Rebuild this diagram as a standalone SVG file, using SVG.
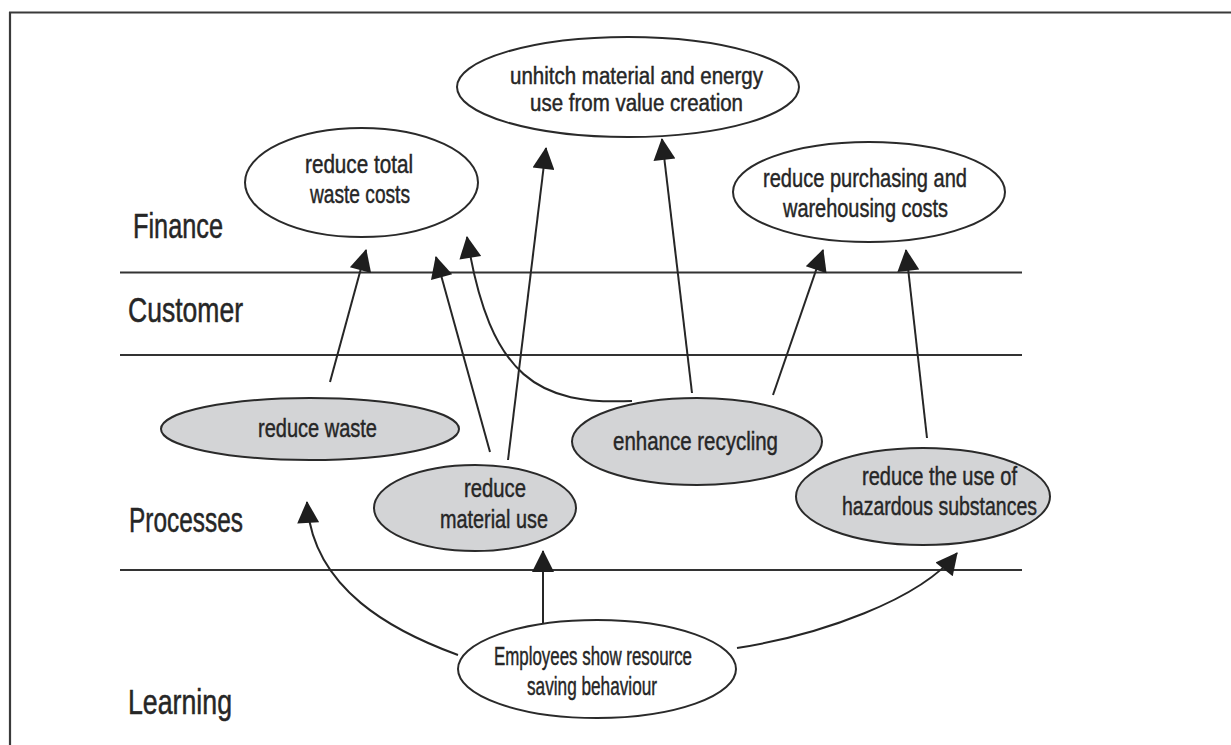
<svg xmlns="http://www.w3.org/2000/svg" width="1231" height="745" viewBox="0 0 1231 745">
  <style>
    .frame { stroke: #3a3a3a; stroke-width: 2.2; fill: none; }
    .band { stroke: #333; stroke-width: 2; fill: none; }
    .goal { fill: #ffffff; stroke: #2a2a2a; stroke-width: 2; }
    .proc { fill: #d3d4d6; stroke: #2a2a2a; stroke-width: 2; }
    .t { font-family: "Liberation Sans Narrow", "Liberation Sans", Arial, sans-serif; font-size: 26px; fill: #262626; stroke: #262626; stroke-width: 0.45; text-anchor: middle; }
    .tight { font-size: 23.5px; }
    .lbl { font-family: "Liberation Sans Narrow", "Liberation Sans", Arial, sans-serif; font-size: 35px; fill: #262626; stroke: #262626; stroke-width: 0.5; }
    .conn { stroke: #262626; stroke-width: 2; fill: none; marker-end: url(#head); }
  </style>
  <defs>
    <marker id="head" viewBox="0 0 10 10" refX="9.5" refY="5" markerUnits="userSpaceOnUse" markerWidth="28" markerHeight="22" orient="auto">
      <path d="M0,0 L10,5 L0,10 z" fill="#1e1e1e"/>
    </marker>
  </defs>

  <rect width="1231" height="745" fill="#ffffff"/>

  <!-- outer frame: top and left edges -->
  <line class="frame" x1="9" y1="12.5" x2="1231" y2="12.5"/>
  <line class="frame" x1="10" y1="12" x2="10" y2="745"/>

  <!-- perspective bands -->
  <g id="bands">
    <line class="band" x1="120" y1="272.5" x2="1022" y2="272.5"/>
    <line class="band" x1="120" y1="355" x2="1022" y2="355"/>
    <line class="band" x1="120" y1="570" x2="1022" y2="570"/>
  </g>

  <g id="labels">
    <text class="lbl" x="133" y="238" textLength="90" lengthAdjust="spacingAndGlyphs">Finance</text>
    <text class="lbl" x="128" y="322" textLength="115" lengthAdjust="spacingAndGlyphs">Customer</text>
    <text class="lbl" x="129" y="532" textLength="114" lengthAdjust="spacingAndGlyphs">Processes</text>
    <text class="lbl" x="128" y="714" textLength="104" lengthAdjust="spacingAndGlyphs">Learning</text>
  </g>

  <!-- connectors -->
  <g id="connectors">
    <path class="conn" d="M330,382 L366,250"/>
    <path class="conn" d="M490,452 L436,257"/>
    <path class="conn" d="M508,460 L546,148"/>
    <path class="conn" d="M632,401 C540,405 490,380 467,237"/>
    <path class="conn" d="M692,393 L662,139"/>
    <path class="conn" d="M773,395 L823,250"/>
    <path class="conn" d="M927,438 L906,250"/>
    <path class="conn" d="M458,655 C395,632 312,590 307,502"/>
    <path class="conn" d="M543,625 L543,551"/>
    <path class="conn" d="M737,648 C820,635 920,600 957,553"/>
  </g>

  <!-- finance goals -->
  <g id="reduce-total-waste-costs">
    <ellipse class="goal" cx="361.5" cy="182.5" rx="116.5" ry="54.5"/>
    <text class="t" x="359" y="173" textLength="108" lengthAdjust="spacingAndGlyphs">reduce total</text>
    <text class="t" x="360" y="203" textLength="100" lengthAdjust="spacingAndGlyphs">waste costs</text>
  </g>
  <g id="unhitch-material-energy">
    <ellipse class="goal" cx="628" cy="87" rx="171" ry="50"/>
    <text class="t tight" x="636.5" y="84" textLength="253" lengthAdjust="spacingAndGlyphs">unhitch material and energy</text>
    <text class="t tight" x="636.5" y="111" textLength="213" lengthAdjust="spacingAndGlyphs">use from value creation</text>
  </g>
  <g id="reduce-purchasing-costs">
    <ellipse class="goal" cx="869" cy="192" rx="136" ry="50"/>
    <text class="t" x="865" y="187" textLength="204" lengthAdjust="spacingAndGlyphs">reduce purchasing and</text>
    <text class="t" x="865.5" y="217" textLength="165" lengthAdjust="spacingAndGlyphs">warehousing costs</text>
  </g>

  <!-- process objectives -->
  <g id="reduce-waste">
    <ellipse class="proc" cx="310" cy="429" rx="149" ry="31"/>
    <text class="t" x="317.5" y="437" textLength="119" lengthAdjust="spacingAndGlyphs">reduce waste</text>
  </g>
  <g id="reduce-material-use">
    <ellipse class="proc" cx="475" cy="508" rx="101" ry="43"/>
    <text class="t" x="495" y="497" textLength="62" lengthAdjust="spacingAndGlyphs">reduce</text>
    <text class="t" x="494" y="528" textLength="108" lengthAdjust="spacingAndGlyphs">material use</text>
  </g>
  <g id="enhance-recycling">
    <ellipse class="proc" cx="697" cy="441.5" rx="125" ry="43.5"/>
    <text class="t" x="695.5" y="450" textLength="165" lengthAdjust="spacingAndGlyphs">enhance recycling</text>
  </g>
  <g id="reduce-hazardous-substances">
    <ellipse class="proc" cx="923" cy="496.5" rx="127" ry="48.5"/>
    <text class="t" x="939.5" y="485" textLength="155" lengthAdjust="spacingAndGlyphs">reduce the use of</text>
    <text class="t" x="939.5" y="515" textLength="195" lengthAdjust="spacingAndGlyphs">hazardous substances</text>
  </g>

  <!-- learning objective -->
  <g id="employees-resource-saving">
    <ellipse class="goal" cx="597" cy="669" rx="139" ry="49"/>
    <text class="t" x="593" y="665" textLength="198" lengthAdjust="spacingAndGlyphs">Employees show resource</text>
    <text class="t" x="592" y="695" textLength="130" lengthAdjust="spacingAndGlyphs">saving behaviour</text>
  </g>
</svg>
